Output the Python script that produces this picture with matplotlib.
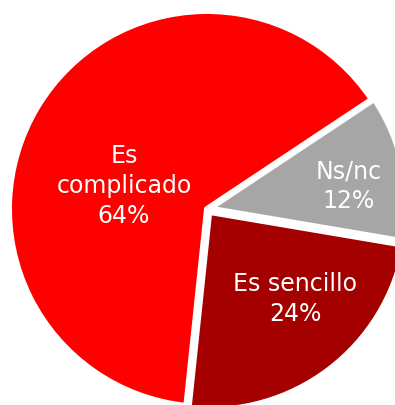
import matplotlib.pyplot as plt

# Survey answers and their share
labels = ['Es\ncomplicado', 'Es sencillo', 'Ns/nc']
values = [64, 24, 12]
colors = ['#FF0000', '#A50000', '#A6A6A6']
explode = [0, 3.7, 2.5]  # pie() takes these in data units (pixels here)

fig = plt.figure(figsize=(3.95, 4.06), dpi=100)
ax = fig.add_axes([0, 0, 1, 1])

radius = 198
center = (207, 196)
wedges, _ = ax.pie(values, colors=colors, explode=explode, startangle=33.6,
                   radius=radius, center=center, counterclock=True,
                   wedgeprops=dict(linewidth=4.3, edgecolor='white',
                                   joinstyle='round'))

# label positions in pixels (x from left, y from top)
label_pos = [(124, 186), (295, 299), (349, 186)]
for lab, v, (x, y) in zip(labels, values, label_pos):
    ax.text(x, 406 - y, f'{lab}\n{v}%', color='white', fontsize=17,
            ha='center', va='center', linespacing=1.3,
            family='DejaVu Sans')

ax.set_xlim(0, 395)
ax.set_ylim(0, 406)
ax.set_aspect('equal')
ax.axis('off')

plt.savefig('out.png', dpi=100)
